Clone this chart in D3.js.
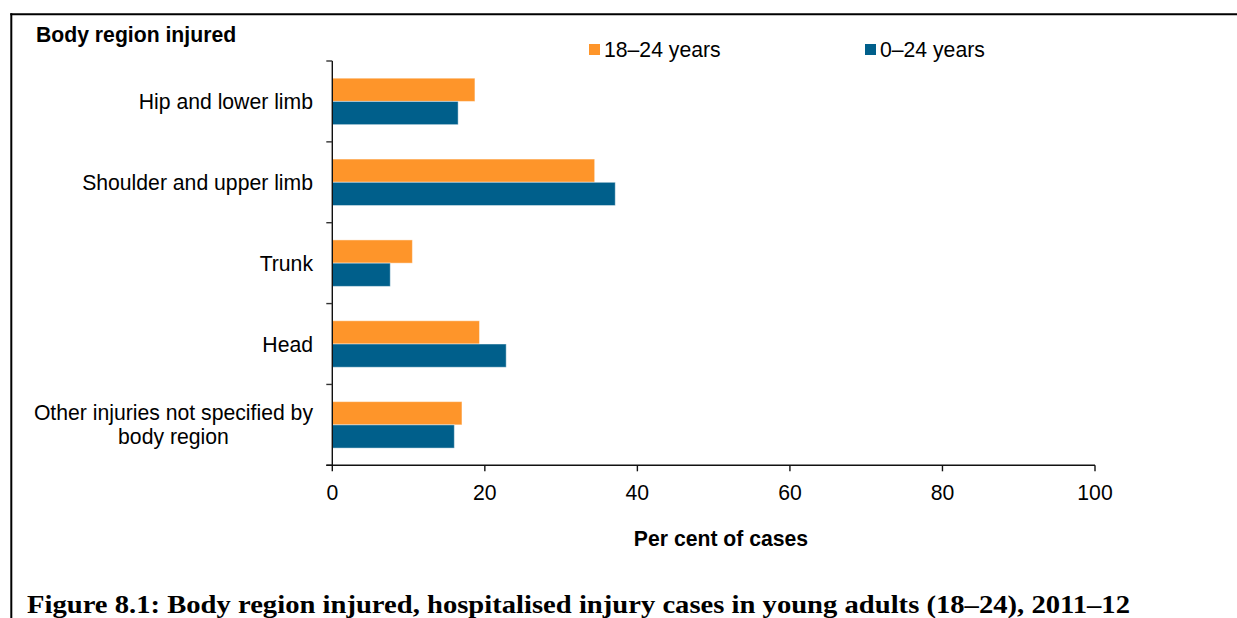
<!DOCTYPE html>
<html>
<head>
<meta charset="utf-8">
<script src="https://cdn.jsdelivr.net/npm/d3@7"></script>
<style>
  html, body { margin: 0; padding: 0; background: #fff; }
  svg { display: block; }
  text { font-family: "Liberation Sans", Arial, sans-serif; fill: #000; }
  text.caption { font-family: "Liberation Serif", "Times New Roman", serif; }
</style>
</head>
<body>
<svg id="chart" width="1237" height="618"></svg>
<script>
// Body region categories (top to bottom), each may wrap onto several lines
const categories = [
  "Hip and lower limb",
  "Shoulder and upper limb",
  "Trunk",
  "Head",
  "Other injuries not specified by body region"
];
const categoryLines = [
  ["Hip and lower limb"],
  ["Shoulder and upper limb"],
  ["Trunk"],
  ["Head"],
  ["Other injuries not specified by", "body region"]
];
const seriesNames = ["18–24 years", "0–24 years"];
const youngAdults = [18.7, 34.4, 10.5, 19.3, 17.0];   // 18–24 years, per cent
const allYoung    = [16.5, 37.1, 7.6, 22.8, 16.0];    // 0–24 years, per cent
const xTicks = [0, 20, 40, 60, 80, 100];
const seriesColors = ["#FE952A", "#005F8B"];

const fontSize = 21.2;
const svg = d3.select("#chart");

// Frame lines along the top and left edge
svg.append("line").attr("x1", 10.3).attr("x2", 1237).attr("y1", 14.3).attr("y2", 14.3)
  .attr("stroke", "#000").attr("stroke-width", 2);
svg.append("line").attr("x1", 11.3).attr("x2", 11.3).attr("y1", 13.3).attr("y2", 618)
  .attr("stroke", "#000").attr("stroke-width", 2);

const plot = { left: 332.3, right: 1095, top: 61, bottom: 465.3 };

const x = d3.scaleLinear().domain([0, 100]).range([plot.left, plot.right]);
const y = d3.scaleBand().domain(categories).range([plot.top, plot.bottom]).padding(0);
const ySeries = d3.scaleBand().domain(seriesNames).range([0, y.bandwidth()])
  .paddingInner(0).paddingOuter(0.74);

const rows = categories.map((c, i) => ({
  category: c,
  values: [
    { series: seriesNames[0], value: youngAdults[i] },
    { series: seriesNames[1], value: allYoung[i] }
  ]
}));

// Bars
const groups = svg.append("g").selectAll("g").data(rows).join("g")
  .attr("transform", d => `translate(0,${y(d.category)})`);
groups.selectAll("rect").data(d => d.values).join("rect")
  .attr("x", x(0))
  .attr("y", d => ySeries(d.series))
  .attr("width", d => x(d.value) - x(0))
  .attr("height", ySeries.bandwidth())
  .attr("fill", (d, i) => seriesColors[i])
  .attr("stroke", "rgba(255,255,255,0.45)")
  .attr("stroke-width", 1);

// Y axis: line with ticks at category boundaries
const yAxisG = svg.append("g");
yAxisG.append("line").attr("x1", plot.left).attr("x2", plot.left)
  .attr("y1", plot.top).attr("y2", plot.bottom).attr("stroke", "#111").attr("stroke-width", 1.4);
const boundaries = categories.map(c => y(c)).concat([plot.bottom]);
yAxisG.selectAll("line.tick").data(boundaries).join("line").attr("class", "tick")
  .attr("x1", plot.left - 6).attr("x2", plot.left)
  .attr("y1", d => d).attr("y2", d => d)
  .attr("stroke", "#333").attr("stroke-width", 1.4);

// Category labels, right-aligned; wrapped lines centred on one another
const labelRight = 313;
const labelG = svg.append("g");
rows.forEach((r, i) => {
  const lines = categoryLines[i];
  const cy = y(r.category) + y.bandwidth() / 2;
  const lineH = 24;
  const t = labelG.append("text").attr("font-size", fontSize);
  lines.forEach((ln, k) => {
    t.append("tspan").attr("y", cy + (k - (lines.length - 1) / 2) * lineH + 7.5).text(ln);
  });
  const widths = [];
  t.selectAll("tspan").each(function () { widths.push(this.getComputedTextLength()); });
  const maxW = d3.max(widths);
  t.attr("text-anchor", "middle").selectAll("tspan").attr("x", labelRight - maxW / 2);
});

// X axis
const xAxisG = svg.append("g");
xAxisG.append("line").attr("x1", plot.left - 6).attr("x2", plot.right)
  .attr("y1", plot.bottom).attr("y2", plot.bottom).attr("stroke", "#111").attr("stroke-width", 1.4);
xAxisG.selectAll("line.tick").data(xTicks).join("line").attr("class", "tick")
  .attr("x1", d => x(d)).attr("x2", d => x(d))
  .attr("y1", plot.bottom).attr("y2", plot.bottom + 6)
  .attr("stroke", "#111").attr("stroke-width", 1.4);
xAxisG.selectAll("text").data(xTicks).join("text")
  .attr("x", d => x(d)).attr("y", 499.5)
  .attr("text-anchor", "middle").attr("font-size", fontSize)
  .text(d => d);

// Axis titles
svg.append("text").attr("x", 721).attr("y", 546).attr("text-anchor", "middle")
  .attr("font-size", fontSize).attr("font-weight", "bold").text("Per cent of cases");
svg.append("text").attr("x", 36).attr("y", 42).attr("font-size", fontSize)
  .attr("font-weight", "bold").text("Body region injured");

// Legend
const legendItems = [{ x: 589, name: seriesNames[0], color: seriesColors[0] },
                     { x: 865, name: seriesNames[1], color: seriesColors[1] }];
const lg = svg.append("g").selectAll("g").data(legendItems).join("g");
lg.append("rect").attr("x", d => d.x).attr("y", 44).attr("width", 11).attr("height", 11)
  .attr("fill", d => d.color);
lg.append("text").attr("x", d => d.x + 15).attr("y", 57).attr("font-size", fontSize)
  .text(d => d.name);

// Figure caption
svg.append("text").attr("class", "caption").attr("x", 27).attr("y", 612.5)
  .attr("font-size", 25.5).attr("font-weight", "bold")
  .attr("textLength", 1103).attr("lengthAdjust", "spacingAndGlyphs")
  .text("Figure 8.1: Body region injured, hospitalised injury cases in young adults (18–24), 2011–12");
</script>
</body>
</html>
